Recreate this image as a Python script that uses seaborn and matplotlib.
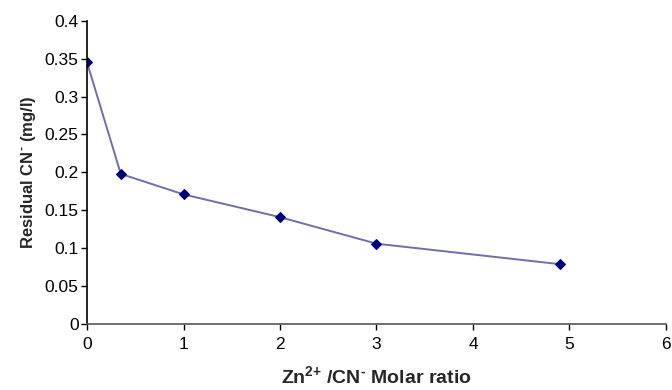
import matplotlib
matplotlib.use("Agg")
import matplotlib.pyplot as plt
import seaborn as sns
import pandas as pd

ratio = [0.0, 0.35, 1.0, 2.0, 3.0, 4.9]
residual_cn = [0.345, 0.198, 0.171, 0.141, 0.106, 0.079]
x_ticks = [0, 1, 2, 3, 4, 5, 6]
y_ticks = [0, 0.05, 0.1, 0.15, 0.2, 0.25, 0.3, 0.35, 0.4]
y_tick_labels = ["0", "0.05", "0.1", "0.15", "0.2", "0.25", "0.3", "0.35", "0.4"]

sns.set_theme(style="ticks")
plt.rcParams["font.family"] = ["Liberation Sans", "DejaVu Sans"]
plt.rcParams["mathtext.fontset"] = "custom"
plt.rcParams["mathtext.bf"] = "Liberation Sans:bold"
plt.rcParams["mathtext.rm"] = "Liberation Sans:bold"
plt.rcParams["mathtext.default"] = "bf"

df = pd.DataFrame({"ratio": ratio, "residual": residual_cn})

fig = plt.figure(figsize=(6.72, 3.9), dpi=100)
ax = fig.add_axes([0.1295, 0.169, 0.8615, 0.778])
sns.lineplot(data=df, x="ratio", y="residual", ax=ax, color="#6E6EAE", linewidth=1.4,
             marker="D", markersize=5.5, markerfacecolor="#00007F", markeredgecolor="#00007F")

ax.set_xlim(0, 6)
ax.set_ylim(0, 0.4)
ax.set_xticks(x_ticks)
ax.set_xticklabels([str(t) for t in x_ticks])
ax.set_yticks(y_ticks)
ax.set_yticklabels(y_tick_labels)
ax.tick_params(axis="both", direction="out", length=4, width=1, labelsize=12.5, colors="black")
ax.tick_params(axis="x", pad=5)
ax.tick_params(axis="y", pad=2)
for s in ["top", "right"]:
    ax.spines[s].set_visible(False)
for s in ["left", "bottom"]:
    ax.spines[s].set_color("black")
    ax.spines[s].set_linewidth(1.2)
ax.spines["bottom"].set_color("#555555")

ax.set_xlabel(r"Zn$^{\text{2+}}$ /CN$^{\text{-}}$ Molar ratio", fontsize=14, fontweight="bold", labelpad=10)
ax.set_ylabel(r"Residual CN$^{\text{-}}$ (mg/l)", fontsize=12, fontweight="bold", labelpad=5)

fig.savefig("out.png", dpi=100)
